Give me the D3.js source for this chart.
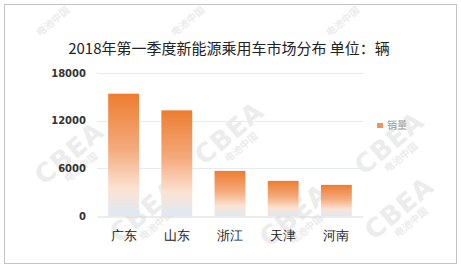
<!DOCTYPE html>
<html>
<head>
<meta charset="utf-8">
<script src="https://cdn.jsdelivr.net/npm/d3@7"></script>
<style>
  html, body { margin: 0; padding: 0; background: #fff; }
  svg { display: block; font-family: "Noto Sans CJK SC", "Noto Sans", sans-serif; }
</style>
</head>
<body>
<div id="chart"></div>
<script>
const title = "2018年第一季度新能源乘用车市场分布  单位：辆";
const provinces = ["广东", "山东", "浙江", "天津", "河南"];
const sales = [15400, 13300, 5680, 4420, 3920];
const yTicks = [0, 6000, 12000, 18000];
const seriesName = "销量";

const width = 461, height = 270;
const margin = { top: 73, right: 98, bottom: 54, left: 97 };

const svg = d3.select("#chart").append("svg")
    .attr("width", width).attr("height", height);

// frame
svg.append("rect")
    .attr("x", 4.5).attr("y", 4.5).attr("width", 452).attr("height", 259)
    .attr("fill", "#fff").attr("stroke", "#c4c4c4");

// watermarks, kept inside the frame, under the chart
const marks = [[75, 160], [235, 140], [395, 150], [150, 218], [300, 222], [405, 215]];
const smallMarks = [[55, 24], [190, 24], [345, 24]];
const wm = svg.append("g").attr("fill", "#ececec").attr("pointer-events", "none");
marks.forEach(([cx, cy]) => {
  const g = wm.append("g").attr("transform", `translate(${cx},${cy}) rotate(-40)`);
  g.append("text").attr("text-anchor", "middle").attr("font-size", 26).attr("font-weight", "bold")
    .attr("font-family", "DejaVu Sans, sans-serif").attr("letter-spacing", 1).text("CBEA");
  g.append("text").attr("y", 13).attr("text-anchor", "middle").attr("font-size", 10)
    .attr("font-weight", "bold").text("电池中国");
});
smallMarks.forEach(([cx, cy]) => {
  wm.append("text").attr("transform", `translate(${cx},${cy}) rotate(-40)`)
    .attr("text-anchor", "middle").attr("font-size", 10).attr("font-weight", "bold").text("电池中国");
});

const defs = svg.append("defs");
const grad = defs.append("linearGradient").attr("id", "barGrad")
    .attr("x1", 0).attr("y1", 0).attr("x2", 0).attr("y2", 1);
grad.append("stop").attr("offset", "0%").attr("stop-color", "#ed7d31");
grad.append("stop").attr("offset", "45%").attr("stop-color", "#f4aa7c");
grad.append("stop").attr("offset", "78%").attr("stop-color", "#fbe3d3");
grad.append("stop").attr("offset", "100%").attr("stop-color", "#dde9f5");

const x = d3.scaleBand().domain(provinces)
    .range([margin.left, width - margin.right]).paddingInner(0.42).paddingOuter(0.21);
const y = d3.scaleLinear().domain([0, 18000]).range([height - margin.bottom, margin.top]);

// gridlines
svg.append("g").selectAll("line").data(yTicks.filter(d => d > 0)).join("line")
    .attr("x1", margin.left).attr("x2", width - margin.right)
    .attr("y1", d => Math.round(y(d)) + 0.5).attr("y2", d => Math.round(y(d)) + 0.5)
    .attr("stroke", "#e3ebf4");

// bars
svg.append("g").selectAll("rect").data(provinces).join("rect")
    .attr("x", d => x(d)).attr("width", x.bandwidth())
    .attr("y", (d, i) => y(sales[i]))
    .attr("height", (d, i) => y(0) - y(sales[i]))
    .attr("fill", "url(#barGrad)");

// x axis
const xAxis = svg.append("g").attr("transform", `translate(0,${Math.round(y(0)) + 0.5})`)
    .call(d3.axisBottom(x).tickSize(0).tickPadding(14));
xAxis.select(".domain").attr("stroke", "#d9d9d9");
xAxis.selectAll("text").attr("font-size", 13).attr("fill", "#222");

// y axis
const yAxis = svg.append("g").attr("transform", `translate(${margin.left - 11},0)`)
    .call(d3.axisLeft(y).tickValues(yTicks).tickFormat(d3.format("d")).tickSize(0).tickPadding(0));
yAxis.select(".domain").remove();
yAxis.selectAll("text").attr("font-size", 10).attr("font-weight", "bold")
    .attr("fill", "#333").attr("font-family", "DejaVu Sans, sans-serif");

// title
svg.append("text").attr("x", 229).attr("y", 54).attr("text-anchor", "middle")
    .attr("font-size", 15).attr("fill", "#222").text(title);

// legend
const lg = svg.append("g").attr("transform", "translate(377,123)");
lg.append("rect").attr("width", 6).attr("height", 5).attr("fill", "#f0945a");
lg.append("text").attr("x", 10).attr("y", 6).attr("font-size", 10)
    .attr("fill", "#999").text(seriesName);
</script>
</body>
</html>
